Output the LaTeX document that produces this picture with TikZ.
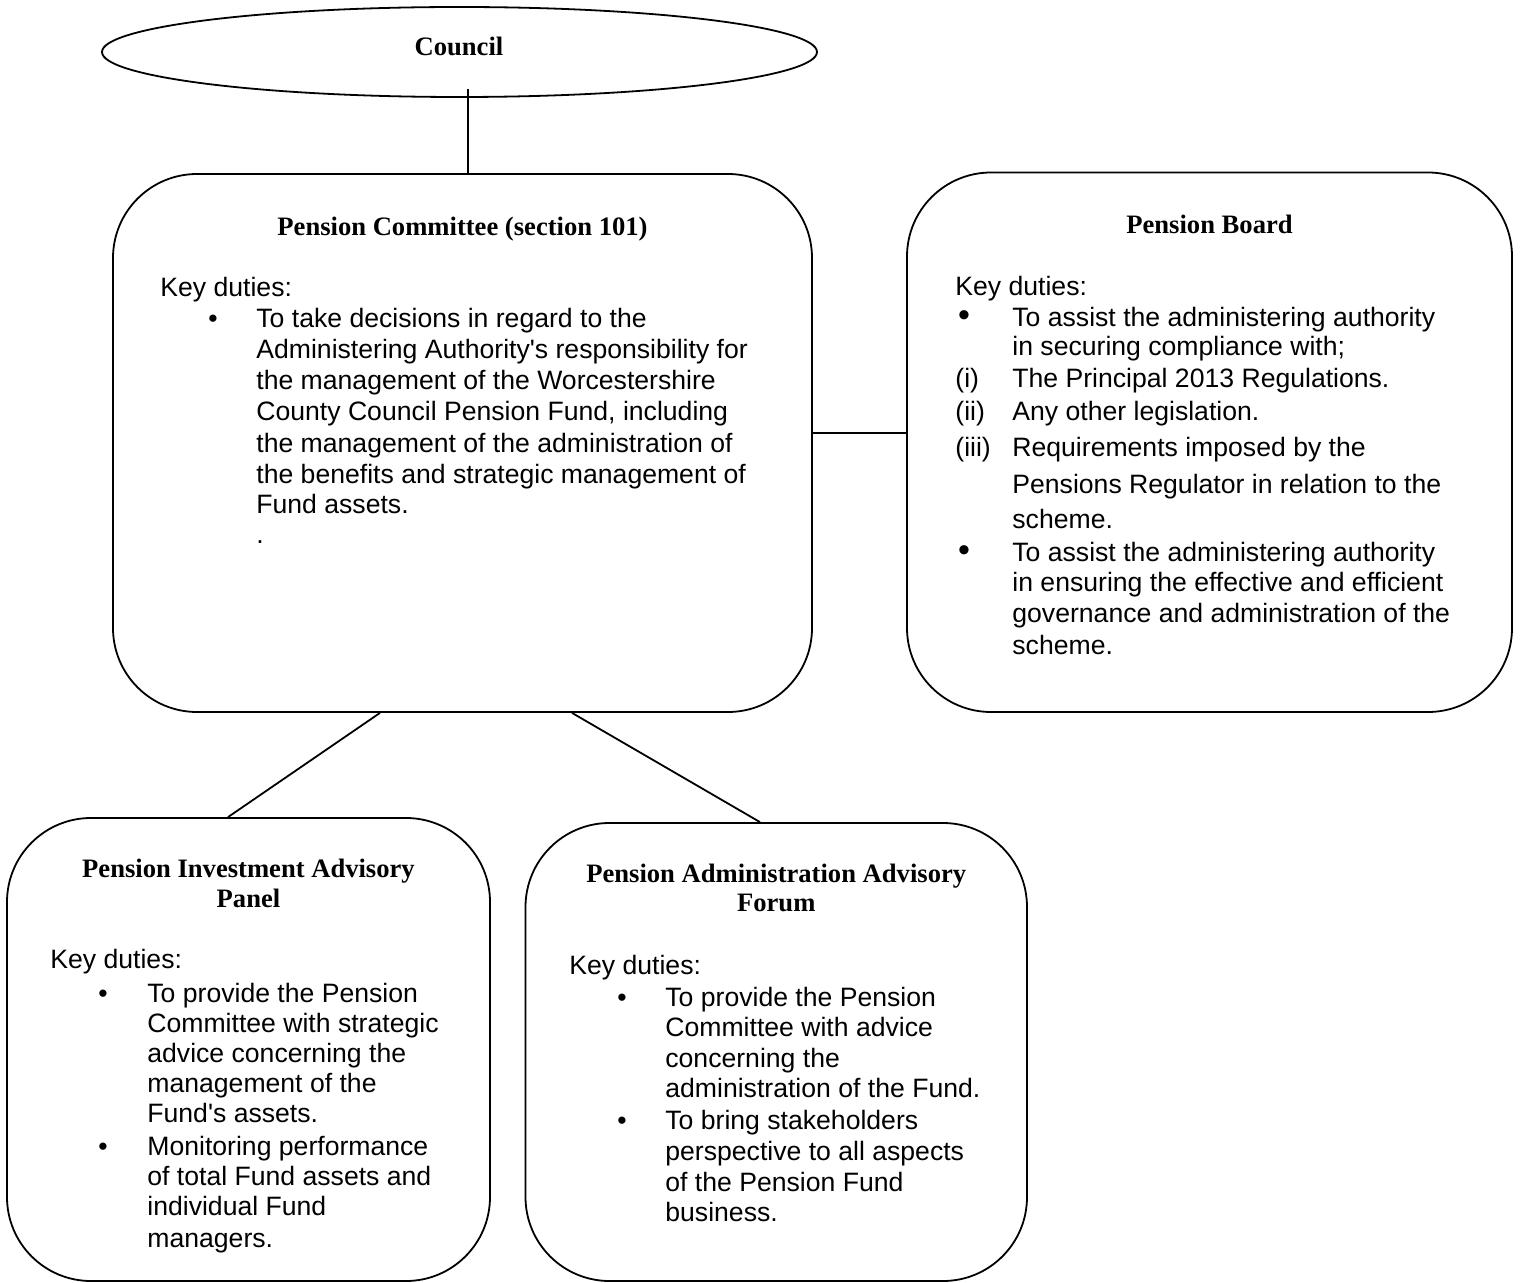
\documentclass[tikz,border=0pt]{standalone}
\usepackage{fontspec}
\setmainfont{Liberation Serif}
\newfontfamily\arialf{Liberation Sans}
\usetikzlibrary{shapes.geometric}
\tikzset{
  ln/.style={line width=0.9pt, black},
  boxs/.style={draw, line width=0.9pt, rounded corners=42pt, inner sep=0pt},
  ttl/.style={anchor=base, inner sep=0pt, font=\bfseries\fontsize{13.3}{15.3}\selectfont},
  txt/.style={anchor=base west, inner sep=0pt, font=\arialf\fontsize{13.3}{15.3}\selectfont},
  bul/.style={anchor=base, inner sep=0pt, font=\arialf\fontsize{13.3}{15.3}\selectfont},
  bigbul/.style={anchor=base, inner sep=0pt, font=\arialf\fontsize{17}{15.3}\selectfont},
}
\newcommand{\apos}{\textquotesingle}
\begin{document}
\begin{tikzpicture}[x=0.5pt,y=-0.5pt]
\useasboundingbox (0,0) rectangle (1520,1283);

% Council
\node[draw, ellipse, line width=0.9pt, minimum width=357.5pt, minimum height=45pt, inner sep=0pt] (council) at (459.5,52) {};
\node[ttl] (counciltxt) at (459,56) {Council};
\coordinate (cl) at (468,89);

% boxes
\node[boxs, minimum width=349.5pt, minimum height=269pt] (committee) at (462.5,443) {};
\node[boxs, minimum width=302.5pt, minimum height=269.75pt] (board) at (1209.5,442.25) {};
\node[boxs, minimum width=241.5pt, minimum height=231.5pt] (inv) at (248.5,1049.5) {};
\node[boxs, minimum width=250.75pt, minimum height=229pt] (forum) at (776.25,1052) {};

% connectors
\draw[ln] (cl) -- (cl |- committee.north);
\coordinate (cy) at (0,433);
\draw[ln] (committee.east |- cy) -- (board.west |- cy);
\coordinate (d1) at (380,0);
\coordinate (d2) at (228,0);
\coordinate (d3) at (572,0);
\coordinate (d4) at (760,0);
\draw[ln] (d1 |- committee.south) -- (d2 |- inv.north);
\draw[ln] (d3 |- committee.south) -- (d4 |- forum.north);

% Committee text
\node[ttl] (ct) at (462.5,236) {Pension Committee (section 101)};
\node[txt] (ck) at (160,297) {Key duties:};
\node[bul] (cb1) at (213,328) {\textbullet};
\node[txt] (c1) at (256,328) {To take decisions in regard to the};
\node[txt] (c2) at (256,359) {Administering Authority\apos s responsibility for};
\node[txt] (c3) at (256,390) {the management of the Worcestershire};
\node[txt] (c4) at (256,421) {County Council Pension Fund, including};
\node[txt] (c5) at (256,452) {the management of the administration of};
\node[txt] (c6) at (256,483) {the benefits and strategic management of};
\node[txt] (c7) at (256,513) {Fund assets.};
\node[txt] (c8) at (256,543) {.};

% Board text
\node[ttl] (bt) at (1209.5,234) {Pension Board};
\node[txt] (bk) at (955,296) {Key duties:};
\node[bigbul] (bb1) at (964,327) {\textbullet};
\node[txt] (b1) at (1012,327) {To assist the administering authority};
\node[txt] (b2) at (1012,356) {in securing compliance with;};
\node[txt] (bi1) at (955,388) {(i)};
\node[txt] (b3) at (1012,388) {The Principal 2013 Regulations.};
\node[txt] (bi2) at (955,421) {(ii)};
\node[txt] (b4) at (1012,421) {Any other legislation.};
\node[txt] (bi3) at (955,457) {(iii)};
\node[txt] (b5) at (1012,457) {Requirements imposed by the};
\node[txt] (b6) at (1012,494) {Pensions Regulator in relation to the};
\node[txt] (b7) at (1012,528) {scheme.};
\node[bigbul] (bb2) at (964,561) {\textbullet};
\node[txt] (b8) at (1012,561) {To assist the administering authority};
\node[txt] (b9) at (1012,591) {in ensuring the effective and efficient};
\node[txt] (b10) at (1012,622) {governance and administration of the};
\node[txt] (b11) at (1012,654) {scheme.};

% Investment panel text
\node[ttl] (it1) at (248.5,877) {Pension Investment Advisory};
\node[ttl] (it2) at (248.5,907) {Panel};
\node[txt] (ik) at (50,968) {Key duties:};
\node[bul] (ib1) at (103,1002) {\textbullet};
\node[txt] (i1) at (147,1002) {To provide the Pension};
\node[txt] (i2) at (147,1032) {Committee with strategic};
\node[txt] (i3) at (147,1062) {advice concerning the};
\node[txt] (i4) at (147,1092) {management of the};
\node[txt] (i5) at (147,1122) {Fund\apos s assets.};
\node[bul] (ib2) at (103,1155) {\textbullet};
\node[txt] (i6) at (147,1155) {Monitoring performance};
\node[txt] (i7) at (147,1185) {of total Fund assets and};
\node[txt] (i8) at (147,1215) {individual Fund};
\node[txt] (i9) at (147,1247) {managers.};

% Forum text
\node[ttl] (ft1) at (776.25,882) {Pension Administration Advisory};
\node[ttl] (ft2) at (776.25,911) {Forum};
\node[txt] (fk) at (569,974) {Key duties:};
\node[bul] (fb1) at (622,1006) {\textbullet};
\node[txt] (f1) at (665,1006) {To provide the Pension};
\node[txt] (f2) at (665,1036) {Committee with advice};
\node[txt] (f3) at (665,1067) {concerning the};
\node[txt] (f4) at (665,1097) {administration of the Fund.};
\node[bul] (fb2) at (622,1129) {\textbullet};
\node[txt] (f5) at (665,1129) {To bring stakeholders};
\node[txt] (f6) at (665,1160) {perspective to all aspects};
\node[txt] (f7) at (665,1191) {of the Pension Fund};
\node[txt] (f8) at (665,1221) {business.};
\end{tikzpicture}
\end{document}
